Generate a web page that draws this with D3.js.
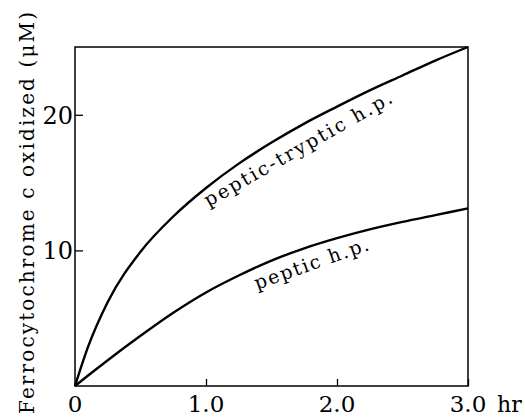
<!DOCTYPE html>
<html>
<head>
<meta charset="utf-8">
<script src="https://cdn.jsdelivr.net/npm/d3@7"></script>
<style>
  body { margin: 0; background: #fff; }
  svg text { font-family: "DejaVu Serif"; fill: #000; }
</style>
</head>
<body>
<script>
// time points (hr)
const hours = [0, 0.1, 0.25, 0.5, 0.75, 1.0, 1.25, 1.5, 1.75, 2.0, 2.25, 2.5, 2.75, 3.0];
// peptic-tryptic h.p. (uM)
const pepticTryptic = [0, 2.9, 6.2, 9.9, 12.5, 14.6, 16.4, 17.95, 19.35, 20.6, 21.8, 22.9, 24.0, 25.0];
// peptic h.p. (uM)
const peptic = [0, 0.77, 1.9, 3.7, 5.4, 6.9, 8.15, 9.25, 10.15, 10.9, 11.55, 12.1, 12.6, 13.1];

const xTicks = [1.0, 2.0, 3.0];
const xTickLabels = ["1.0", "2.0", "3.0"];
const yTicks = [10, 20];

const w = 525;
const h = 417;

const svg = d3.select("body").append("svg").attr("width", w).attr("height", h);

const x = d3.scaleLinear().domain([0, 3]).range([75, 468]);
const y = d3.scaleLinear().domain([0, 25]).range([386, 47]);

// frame
svg.append("rect")
  .attr("x", x(0))
  .attr("y", y(25))
  .attr("width", x(3) - x(0))
  .attr("height", y(0) - y(25))
  .attr("fill", "none")
  .attr("stroke", "#000")
  .attr("stroke-width", 1.5);

// inward ticks
const xAxis = d3.axisTop(x).tickValues(xTicks).tickSize(7).tickFormat("");
svg.append("g").attr("transform", `translate(0,${y(0)})`).call(xAxis)
  .call(g => g.select(".domain").remove())
  .selectAll("line").attr("stroke-width", 1.3);

const yAxis = d3.axisRight(y).tickValues(yTicks).tickSize(8).tickFormat("");
svg.append("g").attr("transform", `translate(${x(0)},0)`).call(yAxis)
  .call(g => g.select(".domain").remove())
  .selectAll("line").attr("stroke-width", 1.3);

// tick labels
svg.selectAll(".xlab").data(xTicks).enter().append("text")
  .attr("x", (d) => x(d))
  .attr("y", y(0) + 26)
  .attr("text-anchor", "middle")
  .attr("font-size", 23)
  .text((d, i) => xTickLabels[i]);

svg.append("text")
  .attr("x", x(0))
  .attr("y", y(0) + 26)
  .attr("text-anchor", "middle")
  .attr("font-size", 23)
  .text("0");

svg.append("text")
  .attr("x", x(3) + 29)
  .attr("y", y(0) + 26)
  .attr("font-size", 22)
  .text("hr");

svg.selectAll(".ylab").data(yTicks).enter().append("text")
  .attr("x", x(0) - 2)
  .attr("y", (d) => y(d) + 9)
  .attr("text-anchor", "end")
  .attr("font-size", 24)
  .text((d) => d);

// y title
svg.append("text")
  .attr("transform", "translate(34,414) rotate(-90)")
  .attr("font-size", 20)
  .attr("textLength", 402)
  .attr("lengthAdjust", "spacing")
  .text("Ferrocytochrome c oxidized (\u03bcM)");

// curves
const line = d3.line()
  .x((d) => x(d[0]))
  .y((d) => y(d[1]))
  .curve(d3.curveMonotoneX);

[pepticTryptic, peptic].forEach((vals) => {
  svg.append("path")
    .datum(hours.map((t, i) => [t, vals[i]]))
    .attr("d", line)
    .attr("fill", "none")
    .attr("stroke", "#000")
    .attr("stroke-width", 2.4);
});

// curve labels
svg.append("text")
  .attr("transform", `translate(${x(1.02)},${y(13.2)}) rotate(-29.6)`)
  .attr("font-size", 19)
  .attr("textLength", 213)
  .attr("lengthAdjust", "spacing")
  .text("peptic-tryptic h.p.");

svg.append("text")
  .attr("transform", `translate(${x(1.39)},${y(7.1)}) rotate(-19.5)`)
  .attr("font-size", 19)
  .attr("textLength", 120)
  .attr("lengthAdjust", "spacing")
  .text("peptic h.p.");
</script>
</body>
</html>
